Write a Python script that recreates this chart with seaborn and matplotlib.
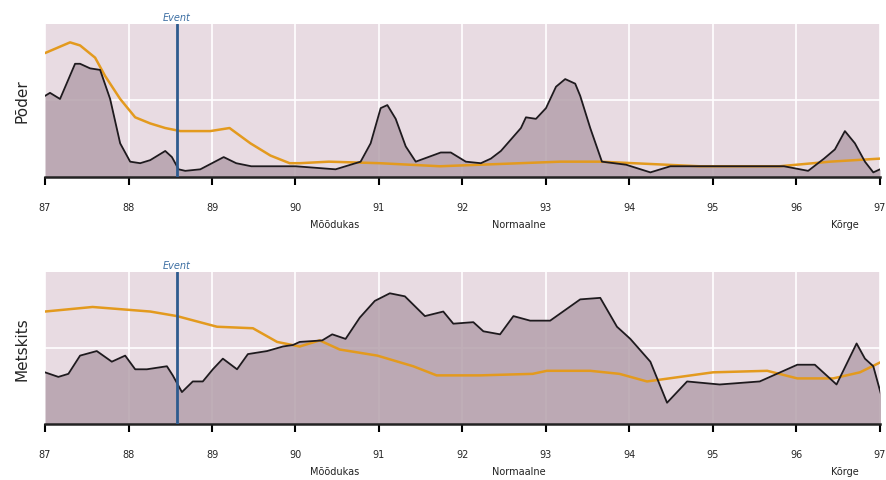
import seaborn as sns
import matplotlib.pyplot as plt
import pandas as pd

# year axis (87..97), values on 0-100 scale
top_years = [87.00, 87.06, 87.18, 87.36, 87.42, 87.54, 87.66, 87.78, 87.90, 88.02,
             88.14, 88.26, 88.44, 88.52, 88.60, 88.68, 88.86, 89.14, 89.29, 89.47,
             90.00, 90.48, 90.78, 90.90, 91.02, 91.10, 91.20, 91.32, 91.44, 91.74,
             91.86, 92.04, 92.22, 92.34, 92.46, 92.70, 92.76, 92.88, 93.00, 93.12,
             93.23, 93.35, 93.41, 93.53, 93.67, 93.96, 94.25, 94.49, 94.85, 95.25,
             95.85, 96.14, 96.33, 96.46, 96.58, 96.70, 96.82, 96.92, 97.00]
top_black = [53, 55, 51, 74, 74, 71, 70, 51, 22, 10,
             9, 11, 17, 13, 5, 4, 5, 13, 9, 7,
             7, 5, 10, 22, 45, 47, 38, 20, 10, 16,
             16, 10, 9, 12, 17, 32, 39, 38, 45, 59,
             64, 61, 53, 32, 10, 8, 3, 7, 7, 7,
             7, 4, 12, 18, 30, 22, 10, 3, 5]

top_orange_years = [87.00, 87.30, 87.42, 87.60, 87.72, 87.90, 88.08, 88.26, 88.44, 88.62,
                    88.98, 89.21, 89.46, 89.70, 89.93, 90.05, 90.40, 91.01, 91.73, 92.69,
                    93.17, 93.65, 94.84, 95.80, 96.40, 97.00]
top_orange = [81, 88, 86, 78, 66, 51, 39, 35, 32, 30,
              30, 32, 22, 14, 9, 9, 10, 9, 7, 9,
              10, 10, 7, 7, 10, 12]

bot_years = [87.00, 87.16, 87.28, 87.42, 87.62, 87.80, 87.96, 88.08, 88.22, 88.46,
             88.53, 88.64, 88.77, 88.89, 89.01, 89.13, 89.30, 89.43, 89.66, 89.85,
             90.05, 89.97, 90.32, 90.44, 90.60, 90.77, 90.95, 91.13, 91.31, 91.55,
             91.77, 91.89, 92.13, 92.25, 92.45, 92.61, 92.81, 93.05, 93.41, 93.65,
             93.85, 94.01, 94.25, 94.45, 94.69, 95.08, 95.56, 96.01, 96.22, 96.48,
             96.72, 96.82, 96.92, 97.02]
bot_black = [34, 31, 33, 45, 48, 41, 45, 36, 36, 38,
             32, 21, 28, 28, 36, 43, 36, 46, 48, 51,
             54, 52, 55, 59, 56, 70, 81, 86, 84, 71,
             74, 66, 67, 61, 59, 71, 68, 68, 82, 83,
             64, 56, 41, 14, 28, 26, 28, 39, 39, 26,
             53, 43, 38, 18]

bot_orange_years = [87.00, 87.57, 88.26, 88.58, 89.06, 89.49, 89.78, 90.05, 90.29, 90.53,
                    90.98, 91.41, 91.69, 92.21, 92.84, 93.01, 93.53, 93.88, 94.21, 95.00,
                    95.65, 96.01, 96.44, 96.76, 97.02]
bot_orange = [74, 77, 74, 71, 64, 63, 54, 51, 55, 49,
              45, 38, 32, 32, 33, 35, 35, 33, 28, 34,
              35, 30, 30, 34, 41]

tick_years = list(range(87, 98))
tick_labels = [str(y) for y in tick_years]
event_year = 88.58
band_labels = ["Mõõdukas", "Normaalne", "Kõrge"]
band_years = [90.47, 92.67, 96.58]

sns.set_theme(style="white")
fig = plt.figure(figsize=(8.86, 4.81), dpi=100)
ax_top = fig.add_axes([0.0508, 0.630, 0.9424, 0.318])
ax_bot = fig.add_axes([0.0508, 0.1164, 0.9424, 0.316])

bg = "#e8dbe2"
fill_col = "#b5a1ac"
panels = [
    (ax_top, top_years, top_black, top_orange_years, top_orange, "Põder"),
    (ax_bot, bot_years, bot_black, bot_orange_years, bot_orange, "Metskits"),
]

for ax, xs, ys, oxs, oys, name in panels:
    ax.set_facecolor(bg)
    black_df = pd.DataFrame({"aasta": xs, "väärtus": ys}).sort_values("aasta")
    orange_df = pd.DataFrame({"aasta": oxs, "väärtus": oys})
    ax.fill_between(black_df["aasta"], 0, black_df["väärtus"], color=fill_col,
                    alpha=0.85, lw=0, zorder=1)
    sns.lineplot(data=orange_df, x="aasta", y="väärtus", ax=ax, color="#e39a1e",
                 lw=1.8, zorder=3)
    sns.lineplot(data=black_df, x="aasta", y="väärtus", ax=ax, color="#1e1a1e",
                 lw=1.3, zorder=4, sort=True)
    ax.axvline(event_year, color="#2e5b8e", lw=2, zorder=5)
    ax.text(event_year, 101, "Event", color="#3d6fa3", fontsize=7, style="italic",
            ha="center", va="bottom")

    ax.set_xlim(87, 97)
    ax.set_ylim(0, 100)
    ax.set_xticks(tick_years)
    ax.set_xticklabels(tick_labels, fontsize=7)
    ax.set_yticks([50])
    ax.set_yticklabels([])
    ax.grid(True, color="white", lw=1.2, zorder=0)
    ax.set_axisbelow(True)
    ax.tick_params(axis="x", direction="out", length=6, width=1.5, color="black",
                   pad=12, bottom=True)
    ax.tick_params(axis="y", length=0)
    for side in ["top", "right", "left"]:
        ax.spines[side].set_visible(False)
    ax.spines["bottom"].set_color("#222222")
    ax.spines["bottom"].set_linewidth(1.8)
    ax.set_xlabel("")
    ax.set_ylabel(name, fontsize=11, labelpad=8)
    for lab, bx in zip(band_labels, band_years):
        ax.text(bx, -0.31, lab, transform=ax.get_xaxis_transform(),
                fontsize=7, ha="center", va="center", color="#222222")

fig.savefig("out.png", dpi=100, facecolor="white")
